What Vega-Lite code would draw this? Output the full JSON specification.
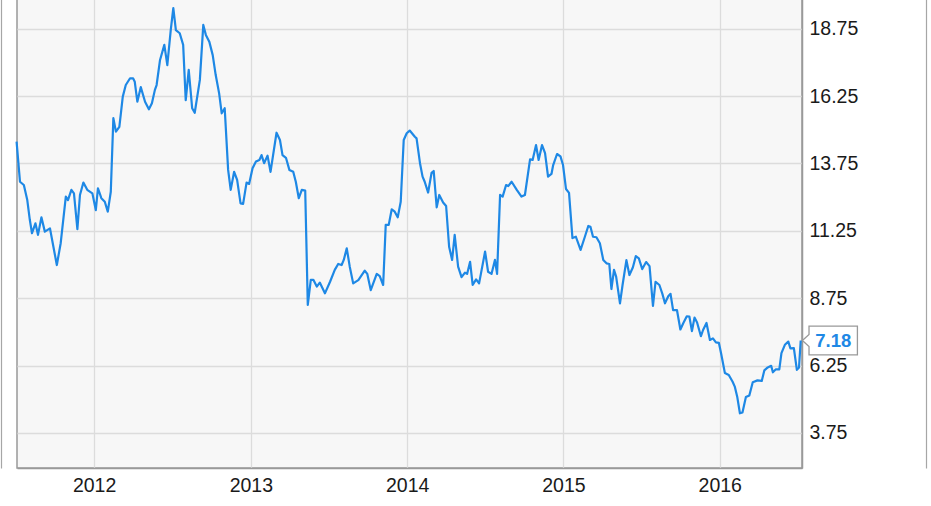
{
  "$schema": "https://vega.github.io/schema/vega-lite/v6.json",
  "width": 785,
  "height": 470,
  "autosize": "none",
  "padding": {"left": 17, "top": -2, "right": 129, "bottom": 38},
  "background": "white",
  "config": {
    "view": {"fill": "#f7f7f7", "stroke": "#999999", "strokeWidth": 1.5},
    "font": "Liberation Sans",
    "axis": {
      "labelFont": "Liberation Sans",
      "labelFontSize": 19.5,
      "labelColor": "#1a1a1a",
      "gridColor": "#dcdcdc",
      "gridWidth": 1.3,
      "domainColor": "#999999",
      "domainWidth": 1.5,
      "ticks": false,
      "tickSize": 0,
      "title": null
    }
  },
  "data": {
    "values": [
      {"date": "2011-07-04", "value": 14.56},
      {"date": "2011-07-12", "value": 13.07},
      {"date": "2011-07-21", "value": 12.95},
      {"date": "2011-07-29", "value": 12.39},
      {"date": "2011-08-04", "value": 11.65},
      {"date": "2011-08-09", "value": 11.16},
      {"date": "2011-08-17", "value": 11.53},
      {"date": "2011-08-23", "value": 11.10},
      {"date": "2011-08-31", "value": 11.75},
      {"date": "2011-09-08", "value": 11.22},
      {"date": "2011-09-20", "value": 11.34},
      {"date": "2011-09-28", "value": 10.66},
      {"date": "2011-10-06", "value": 9.98},
      {"date": "2011-10-15", "value": 10.79},
      {"date": "2011-10-27", "value": 12.52},
      {"date": "2011-11-01", "value": 12.39},
      {"date": "2011-11-09", "value": 12.77},
      {"date": "2011-11-15", "value": 12.64},
      {"date": "2011-11-23", "value": 11.31},
      {"date": "2011-11-29", "value": 12.58},
      {"date": "2011-12-07", "value": 13.04},
      {"date": "2011-12-16", "value": 12.77},
      {"date": "2011-12-28", "value": 12.64},
      {"date": "2012-01-05", "value": 12.02},
      {"date": "2012-01-10", "value": 12.83},
      {"date": "2012-01-18", "value": 12.46},
      {"date": "2012-01-26", "value": 12.33},
      {"date": "2012-02-02", "value": 11.96},
      {"date": "2012-02-09", "value": 12.70},
      {"date": "2012-02-15", "value": 15.43},
      {"date": "2012-02-21", "value": 14.93},
      {"date": "2012-02-29", "value": 15.11},
      {"date": "2012-03-08", "value": 16.23},
      {"date": "2012-03-15", "value": 16.66},
      {"date": "2012-03-25", "value": 16.91},
      {"date": "2012-04-01", "value": 16.91},
      {"date": "2012-04-05", "value": 16.78},
      {"date": "2012-04-11", "value": 16.04},
      {"date": "2012-04-19", "value": 16.58},
      {"date": "2012-04-29", "value": 16.04},
      {"date": "2012-05-08", "value": 15.76},
      {"date": "2012-05-15", "value": 15.98},
      {"date": "2012-05-22", "value": 16.48},
      {"date": "2012-05-26", "value": 16.66},
      {"date": "2012-06-03", "value": 17.59},
      {"date": "2012-06-13", "value": 18.15},
      {"date": "2012-06-20", "value": 17.40},
      {"date": "2012-06-28", "value": 18.70},
      {"date": "2012-07-04", "value": 19.51},
      {"date": "2012-07-10", "value": 18.70},
      {"date": "2012-07-19", "value": 18.58},
      {"date": "2012-07-27", "value": 18.15},
      {"date": "2012-08-02", "value": 16.10},
      {"date": "2012-08-09", "value": 17.22},
      {"date": "2012-08-17", "value": 15.80},
      {"date": "2012-08-23", "value": 15.63},
      {"date": "2012-09-04", "value": 16.85},
      {"date": "2012-09-12", "value": 18.89},
      {"date": "2012-09-18", "value": 18.52},
      {"date": "2012-09-26", "value": 18.27},
      {"date": "2012-10-04", "value": 17.77},
      {"date": "2012-10-11", "value": 17.03},
      {"date": "2012-10-19", "value": 16.35},
      {"date": "2012-10-25", "value": 15.61},
      {"date": "2012-11-01", "value": 15.80},
      {"date": "2012-11-09", "value": 13.51},
      {"date": "2012-11-15", "value": 12.77},
      {"date": "2012-11-23", "value": 13.44},
      {"date": "2012-11-30", "value": 13.14},
      {"date": "2012-12-08", "value": 12.27},
      {"date": "2012-12-14", "value": 12.25},
      {"date": "2012-12-22", "value": 13.04},
      {"date": "2012-12-28", "value": 12.99},
      {"date": "2013-01-05", "value": 13.57},
      {"date": "2013-01-13", "value": 13.82},
      {"date": "2013-01-21", "value": 13.88},
      {"date": "2013-01-26", "value": 14.06},
      {"date": "2013-02-01", "value": 13.76},
      {"date": "2013-02-09", "value": 14.04},
      {"date": "2013-02-16", "value": 13.44},
      {"date": "2013-03-02", "value": 14.89},
      {"date": "2013-03-10", "value": 14.62},
      {"date": "2013-03-16", "value": 14.06},
      {"date": "2013-03-24", "value": 13.96},
      {"date": "2013-04-01", "value": 13.51},
      {"date": "2013-04-10", "value": 13.44},
      {"date": "2013-04-16", "value": 13.07},
      {"date": "2013-04-23", "value": 12.46},
      {"date": "2013-04-30", "value": 12.77},
      {"date": "2013-05-08", "value": 12.74},
      {"date": "2013-05-14", "value": 8.50},
      {"date": "2013-05-21", "value": 9.43},
      {"date": "2013-05-27", "value": 9.43},
      {"date": "2013-06-04", "value": 9.18},
      {"date": "2013-06-11", "value": 9.33},
      {"date": "2013-06-23", "value": 8.93},
      {"date": "2013-07-05", "value": 9.36},
      {"date": "2013-07-16", "value": 9.80},
      {"date": "2013-07-24", "value": 10.02},
      {"date": "2013-08-01", "value": 9.98},
      {"date": "2013-08-06", "value": 10.17},
      {"date": "2013-08-13", "value": 10.60},
      {"date": "2013-08-20", "value": 9.92},
      {"date": "2013-08-28", "value": 9.30},
      {"date": "2013-09-09", "value": 9.42},
      {"date": "2013-09-24", "value": 9.77},
      {"date": "2013-09-30", "value": 9.65},
      {"date": "2013-10-08", "value": 9.05},
      {"date": "2013-10-22", "value": 9.65},
      {"date": "2013-10-29", "value": 9.57},
      {"date": "2013-11-06", "value": 9.24},
      {"date": "2013-11-12", "value": 11.47},
      {"date": "2013-11-19", "value": 11.47},
      {"date": "2013-11-26", "value": 12.05},
      {"date": "2013-12-03", "value": 11.96},
      {"date": "2013-12-10", "value": 11.75},
      {"date": "2013-12-17", "value": 12.33},
      {"date": "2013-12-24", "value": 14.62},
      {"date": "2013-12-31", "value": 14.87},
      {"date": "2014-01-07", "value": 14.97},
      {"date": "2014-01-19", "value": 14.74},
      {"date": "2014-01-23", "value": 14.68},
      {"date": "2014-01-31", "value": 13.76},
      {"date": "2014-02-06", "value": 13.26},
      {"date": "2014-02-11", "value": 13.07},
      {"date": "2014-02-19", "value": 12.67},
      {"date": "2014-02-27", "value": 13.40},
      {"date": "2014-03-04", "value": 13.47},
      {"date": "2014-03-11", "value": 12.12},
      {"date": "2014-03-17", "value": 12.58},
      {"date": "2014-03-26", "value": 12.30},
      {"date": "2014-04-02", "value": 12.17},
      {"date": "2014-04-09", "value": 10.66},
      {"date": "2014-04-16", "value": 10.17},
      {"date": "2014-04-22", "value": 11.10},
      {"date": "2014-04-30", "value": 9.92},
      {"date": "2014-05-08", "value": 9.53},
      {"date": "2014-05-16", "value": 9.70},
      {"date": "2014-05-21", "value": 9.65},
      {"date": "2014-05-28", "value": 10.10},
      {"date": "2014-06-03", "value": 9.24},
      {"date": "2014-06-11", "value": 9.45},
      {"date": "2014-06-18", "value": 9.30},
      {"date": "2014-07-02", "value": 10.48},
      {"date": "2014-07-09", "value": 9.73},
      {"date": "2014-07-17", "value": 9.65},
      {"date": "2014-07-25", "value": 10.17},
      {"date": "2014-07-30", "value": 9.65},
      {"date": "2014-08-06", "value": 12.58},
      {"date": "2014-08-12", "value": 12.52},
      {"date": "2014-08-20", "value": 12.95},
      {"date": "2014-08-25", "value": 12.91},
      {"date": "2014-09-02", "value": 13.07},
      {"date": "2014-09-14", "value": 12.77},
      {"date": "2014-09-25", "value": 12.52},
      {"date": "2014-10-03", "value": 12.58},
      {"date": "2014-10-15", "value": 13.90},
      {"date": "2014-10-21", "value": 13.88},
      {"date": "2014-10-29", "value": 14.43},
      {"date": "2014-11-04", "value": 13.88},
      {"date": "2014-11-12", "value": 14.43},
      {"date": "2014-11-19", "value": 14.13},
      {"date": "2014-11-26", "value": 13.26},
      {"date": "2014-12-04", "value": 13.36},
      {"date": "2014-12-08", "value": 13.69},
      {"date": "2014-12-17", "value": 14.10},
      {"date": "2014-12-25", "value": 14.01},
      {"date": "2014-12-31", "value": 13.69},
      {"date": "2015-01-07", "value": 12.80},
      {"date": "2015-01-14", "value": 12.66},
      {"date": "2015-01-22", "value": 10.98},
      {"date": "2015-01-30", "value": 11.03},
      {"date": "2015-02-10", "value": 10.54},
      {"date": "2015-02-20", "value": 11.03},
      {"date": "2015-02-28", "value": 11.43},
      {"date": "2015-03-05", "value": 11.40},
      {"date": "2015-03-11", "value": 11.03},
      {"date": "2015-03-19", "value": 11.01},
      {"date": "2015-03-27", "value": 10.79},
      {"date": "2015-04-04", "value": 10.17},
      {"date": "2015-04-12", "value": 10.04},
      {"date": "2015-04-18", "value": 10.02},
      {"date": "2015-04-23", "value": 9.09},
      {"date": "2015-04-29", "value": 9.80},
      {"date": "2015-05-04", "value": 9.55},
      {"date": "2015-05-13", "value": 8.56},
      {"date": "2015-05-19", "value": 9.24},
      {"date": "2015-05-28", "value": 10.16},
      {"date": "2015-06-04", "value": 9.61},
      {"date": "2015-06-12", "value": 9.89},
      {"date": "2015-06-19", "value": 10.31},
      {"date": "2015-06-26", "value": 10.23},
      {"date": "2015-07-04", "value": 9.83},
      {"date": "2015-07-13", "value": 10.09},
      {"date": "2015-07-21", "value": 9.94},
      {"date": "2015-07-29", "value": 8.46},
      {"date": "2015-08-04", "value": 9.36},
      {"date": "2015-08-13", "value": 9.24},
      {"date": "2015-08-20", "value": 8.91},
      {"date": "2015-08-26", "value": 8.56},
      {"date": "2015-09-03", "value": 8.83},
      {"date": "2015-09-08", "value": 8.91},
      {"date": "2015-09-14", "value": 8.31},
      {"date": "2015-09-23", "value": 8.31},
      {"date": "2015-10-01", "value": 7.59},
      {"date": "2015-10-08", "value": 7.83},
      {"date": "2015-10-16", "value": 8.08},
      {"date": "2015-10-22", "value": 8.07},
      {"date": "2015-10-28", "value": 7.53},
      {"date": "2015-11-03", "value": 8.03},
      {"date": "2015-11-09", "value": 7.85},
      {"date": "2015-11-18", "value": 7.34},
      {"date": "2015-11-23", "value": 7.57},
      {"date": "2015-12-01", "value": 7.83},
      {"date": "2015-12-09", "value": 7.20},
      {"date": "2015-12-16", "value": 7.26},
      {"date": "2015-12-23", "value": 7.11},
      {"date": "2015-12-30", "value": 7.09},
      {"date": "2016-01-04", "value": 6.71},
      {"date": "2016-01-13", "value": 5.97},
      {"date": "2016-01-22", "value": 5.90},
      {"date": "2016-01-31", "value": 5.65},
      {"date": "2016-02-05", "value": 5.47},
      {"date": "2016-02-11", "value": 5.07},
      {"date": "2016-02-17", "value": 4.48},
      {"date": "2016-02-23", "value": 4.51},
      {"date": "2016-03-02", "value": 5.08},
      {"date": "2016-03-10", "value": 5.14},
      {"date": "2016-03-18", "value": 5.63},
      {"date": "2016-03-29", "value": 5.70},
      {"date": "2016-04-08", "value": 5.68},
      {"date": "2016-04-14", "value": 6.07},
      {"date": "2016-04-22", "value": 6.18},
      {"date": "2016-04-30", "value": 6.24},
      {"date": "2016-05-04", "value": 6.00},
      {"date": "2016-05-11", "value": 6.11},
      {"date": "2016-05-19", "value": 6.11},
      {"date": "2016-05-24", "value": 6.71},
      {"date": "2016-06-01", "value": 7.02},
      {"date": "2016-06-09", "value": 7.14},
      {"date": "2016-06-14", "value": 6.89},
      {"date": "2016-06-22", "value": 6.90},
      {"date": "2016-06-29", "value": 6.09},
      {"date": "2016-07-04", "value": 6.18},
      {"date": "2016-07-08", "value": 7.18}
    ]
  },
  "encoding": {
    "x": {
      "field": "date",
      "type": "temporal",
      "scale": {
        "type": "utc",
        "domain": [
          {"year": 2011, "month": 7, "date": 5, "utc": true},
          {"year": 2016, "month": 7, "date": 11, "utc": true}
        ],
        "nice": false
      },
      "axis": {
        "orient": "bottom",
        "format": "%Y",
        "tickCount": {"interval": "year", "step": 1},
        "grid": true,
        "domain": true,
        "labelPadding": 8,
        "labelAlign": "center",
        "labelFlush": false
      }
    }
  },
  "layer": [
    {
      "mark": {"type": "line", "color": "#1e88e5", "strokeWidth": 2.2, "strokeJoin": "round"},
      "encoding": {
        "y": {
          "field": "value",
          "type": "quantitative",
          "scale": {"domain": [2.449, 19.889], "nice": false, "zero": false},
          "axis": {
            "orient": "right",
            "values": [3.75, 6.25, 8.75, 11.25, 13.75, 16.25, 18.75],
            "format": ".2f",
            "grid": true,
            "domain": true,
            "labelAlign": "left",
            "labelBaseline": "middle",
            "labelPadding": 7,
            "labelFlush": false
          }
        }
      }
    },
    {
      "mark": {"type": "line", "strokeOpacity": 0},
      "encoding": {
        "y": {
          "field": "value",
          "type": "quantitative",
          "axis": {
            "orient": "left",
            "offset": 16,
            "labels": false,
            "grid": false,
            "domain": true,
            "domainColor": "#a6a6a6",
            "domainWidth": 1.2,
            "values": []
          }
        }
      }
    },
    {
      "mark": {"type": "line", "strokeOpacity": 0},
      "encoding": {
        "y": {
          "field": "value",
          "type": "quantitative",
          "axis": {
            "orient": "right",
            "offset": 124,
            "labels": false,
            "grid": false,
            "domain": true,
            "domainColor": "#a6a6a6",
            "domainWidth": 1.2,
            "values": []
          }
        }
      }
    },
    {
      "transform": [{"filter": "datum.value === 7.18"}],
      "mark": {
        "type": "point",
        "shape": "M0,0L0.12,-0.109L0.12,-0.261L1,-0.261L1,0.261L0.12,0.261L0.12,0.109Z",
        "size": 12100,
        "filled": true,
        "fill": "white",
        "stroke": "#999999",
        "strokeWidth": 1.3,
        "opacity": 1,
        "xOffset": 1.7
      },
      "encoding": {
        "y": {"field": "value", "type": "quantitative", "axis": null}
      }
    },
    {
      "transform": [{"filter": "datum.value === 7.18"}],
      "mark": {
        "type": "text",
        "dx": 32.5,
        "align": "center",
        "baseline": "middle",
        "font": "Liberation Sans",
        "fontWeight": "bold",
        "fontSize": 18.5,
        "color": "#1e88e5"
      },
      "encoding": {
        "y": {"field": "value", "type": "quantitative", "axis": null},
        "text": {"field": "value", "type": "quantitative", "format": ".2f"}
      }
    }
  ],
  "resolve": {"axis": {"y": "independent"}}
}
